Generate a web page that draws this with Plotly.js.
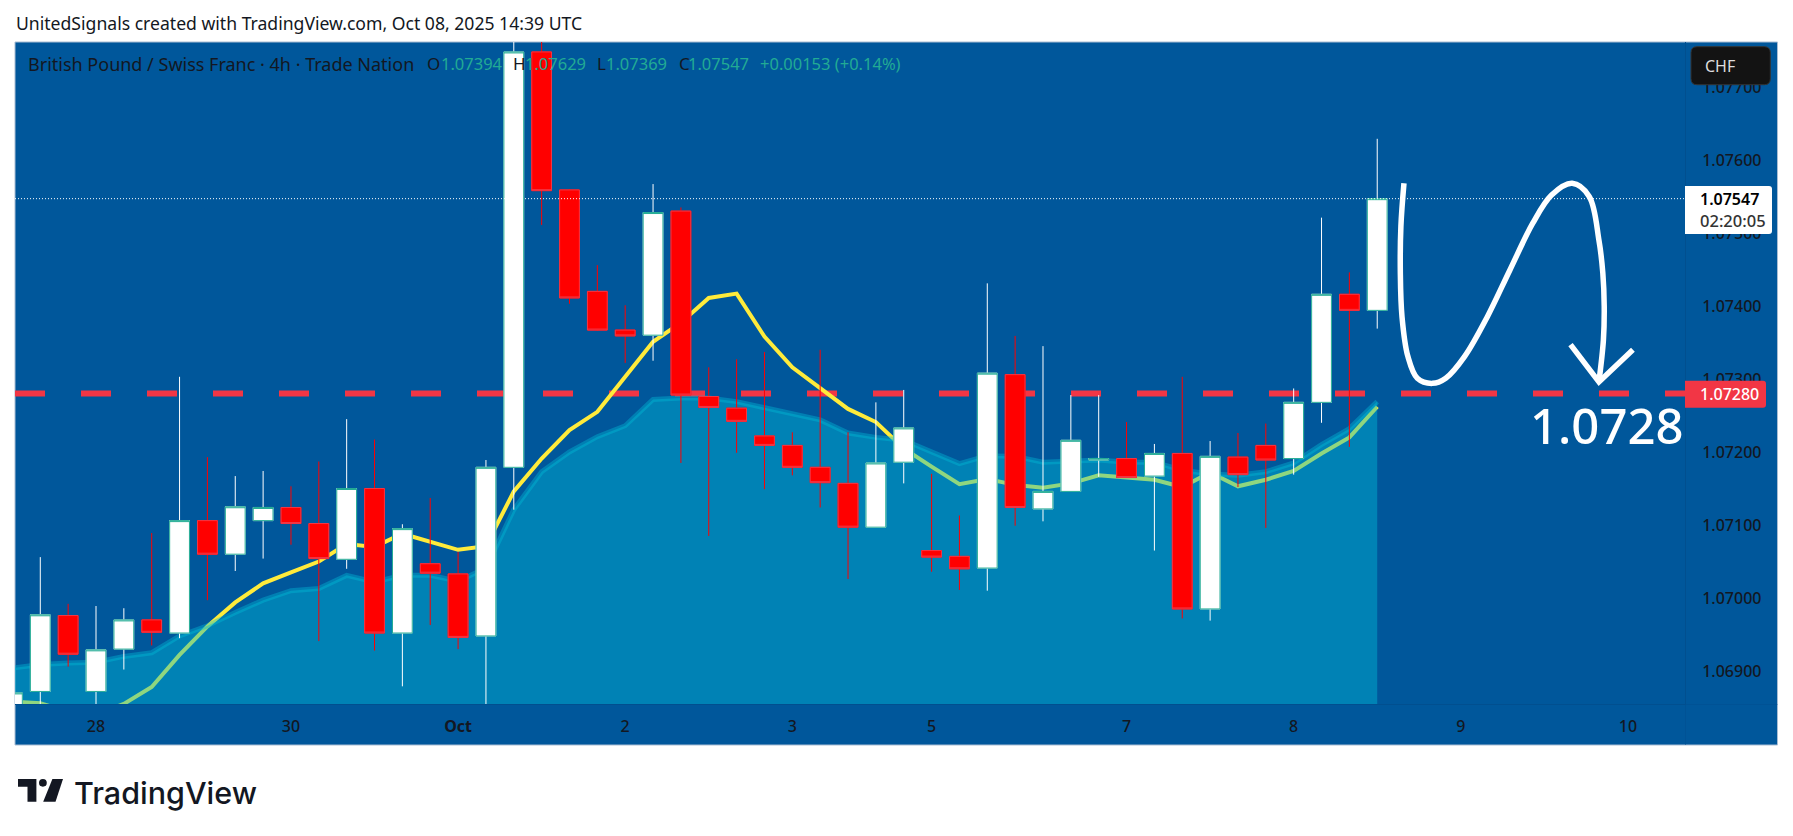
<!DOCTYPE html>
<html>
<head>
<meta charset="utf-8">
<script src="https://cdn.plot.ly/plotly-3.0.1.min.js"></script>
<style>
  html, body { margin: 0; padding: 0; background: #fff; overflow: hidden; }
</style>
</head>
<body>
<div id="chart"></div>
<script>
// bar number of every candle, bar 2 is the 28th
const bars = [-1,0,1,2,3,4,5,6,7,8,9,10,11,12,13,14,15,16,17,18,19,20,21,22,23,24,
  25,26,27,28,29,30,31,32,33,34,35,36,37,38,39,40,41,42,43,44,45,46,47,48];

const opens = [1.06840,1.06872,1.06976,1.06872,1.06930,1.06970,1.06952,1.07106,1.07060,1.07106,
  1.07124,1.07102,1.07053,1.07150,1.06952,1.07047,1.07033,1.06948,1.07179,1.07748,
  1.07559,1.07420,1.07367,1.07360,1.07530,1.07276,1.07260,1.07222,1.07209,1.07179,
  1.07157,1.07097,1.07186,1.07065,1.07057,1.07041,1.07306,1.07122,1.07146,1.07189,
  1.07191,1.07167,1.07198,1.06985,1.07193,1.07209,1.07191,1.07268,1.07416,1.07394];
const highs = [1.06870,1.07056,1.06992,1.06989,1.06986,1.07089,1.07303,1.07193,1.07167,1.07174,
  1.07153,1.07187,1.07245,1.07217,1.07101,1.07137,1.07063,1.07189,1.07790,1.07790,
  1.07560,1.07456,1.07401,1.07567,1.07535,1.07316,1.07327,1.07337,1.07227,1.07340,
  1.07227,1.07268,1.07285,1.07170,1.07113,1.07431,1.07359,1.07345,1.07278,1.07278,
  1.07241,1.07211,1.07303,1.07215,1.07226,1.07239,1.07287,1.07521,1.07446,1.07629];
const lows = [1.06830,1.06847,1.06906,1.06852,1.06902,1.06935,1.06945,1.06997,1.07037,1.07054,
  1.07073,1.06941,1.07040,1.06928,1.06879,1.06963,1.06930,1.06845,1.07121,1.07511,
  1.07403,1.07366,1.07322,1.07325,1.07185,1.07085,1.07199,1.07149,1.07168,1.07124,
  1.07026,1.07097,1.07157,1.07036,1.07011,1.07010,1.07099,1.07105,1.07146,1.07166,
  1.07165,1.07065,1.06972,1.06969,1.07152,1.07096,1.07169,1.07240,1.07207,1.07369];
const closes = [1.06870,1.06977,1.06923,1.06929,1.06970,1.06953,1.07106,1.07060,1.07125,1.07124,
  1.07102,1.07054,1.07150,1.06952,1.07095,1.07034,1.06946,1.07179,1.07748,1.07558,
  1.07411,1.07367,1.07359,1.07528,1.07278,1.07261,1.07242,1.07209,1.07179,1.07158,
  1.07097,1.07185,1.07233,1.07056,1.07040,1.07308,1.07124,1.07146,1.07216,1.07191,
  1.07165,1.07198,1.06985,1.07194,1.07169,1.07189,1.07268,1.07416,1.07394,1.07547];

// the yellow moving average
const fastAverage = [1.06858,1.06856,1.06844,1.06840,1.06855,1.06878,1.06922,1.06961,1.06994,1.07020,
  1.07035,1.07050,1.07074,1.07070,1.07088,1.07077,1.07066,1.07071,1.07146,1.07191,
  1.07230,1.07255,1.07303,1.07351,1.07377,1.07411,1.07417,1.07358,1.07316,1.07287,
  1.07259,1.07241,1.07205,1.07180,1.07156,1.07163,1.07155,1.07151,1.07157,1.07168,
  1.07165,1.07162,1.07152,1.07172,1.07153,1.07162,1.07174,1.07198,1.07220,1.07262];
// the cyan area
const slowAverage = [1.06904,1.06909,1.06911,1.06912,1.06920,1.06925,1.06948,1.06962,1.06980,1.06997,
  1.07010,1.07013,1.07031,1.07022,1.07031,1.07031,1.07023,1.07041,1.07121,1.07173,
  1.07200,1.07221,1.07236,1.07272,1.07274,1.07274,1.07269,1.07261,1.07253,1.07244,
  1.07226,1.07220,1.07216,1.07200,1.07184,1.07195,1.07194,1.07186,1.07188,1.07189,
  1.07186,1.07186,1.07175,1.07170,1.07168,1.07173,1.07185,1.07210,1.07232,1.07269];

const targetPrice = 1.0728;
const lastPrice = 1.07547;

// hand drawn path and arrow head on the right
const sketchBars = [48.96,48.85,48.83,48.89,49.10,49.44,49.98,50.46,51.14,51.95,52.76,53.58,54.26,
  55.00,55.61,55.96,56.10,56.15,56.12,55.96];
const sketchPrices = [1.07568,1.07509,1.07445,1.07385,1.07331,1.07301,1.07294,1.07301,1.07331,1.07385,
  1.07449,1.07513,1.07552,1.07568,1.07550,1.07490,1.07445,1.07399,1.07353,1.07296];
const arrowBars = [54.94,55.96,57.18];
const arrowPrices = [1.07347,1.07296,1.07340];

const dayBars = [2,9,15,21,27,32,39,45,51,57];
const dayLabels = ['28','30','<b>Oct</b>','2','3','5','7','8','9','10'];

const barRange = [-0.908, 59.05];
const priceRange = [1.068548, 1.077616];

// pane edges in page pixels
const W = 1793, H = 836;
const paneLeft = 15, paneRight = 1685, paneTop = 42, paneBottom = 704;
const frameRight = 1777.5, frameBottom = 745;
const px = (x) => (x - paneLeft) / (paneRight - paneLeft);
const py = (y) => (paneBottom - y) / (paneBottom - paneTop);

const FONT = '"Noto Sans", sans-serif';
const INK = '#131722';
const GREEN = '#22ab94';

function pageRect(x0, y0, x1, y1, fill, line, layer) {
  return {
    type: 'rect', xref: 'paper', yref: 'paper', layer: layer || 'above',
    x0: px(x0), x1: px(x1), y0: py(y1), y1: py(y0),
    fillcolor: fill, line: line || { width: 0 },
  };
}

// rectangle with round corners, square on the left when squareLeft is set
function roundRect(x0, y0, x1, y1, r, fill, line, squareLeft) {
  const a = (x, y) => `${px(x)} ${py(y)}`;
  const rl = squareLeft ? 0 : r;
  const path = `M${a(x0 + rl, y0)} L${a(x1 - r, y0)} Q${a(x1, y0)} ${a(x1, y0 + r)} `
    + `L${a(x1, y1 - r)} Q${a(x1, y1)} ${a(x1 - r, y1)} L${a(x0 + rl, y1)} `
    + `Q${a(x0, y1)} ${a(x0, y1 - rl)} L${a(x0, y0 + rl)} Q${a(x0, y0)} ${a(x0 + rl, y0)} Z`;
  return {
    type: 'path', xref: 'paper', yref: 'paper', layer: 'above', path,
    fillcolor: fill, line: line || { width: 0 },
  };
}

function label(text, x, y, size, color, weight) {
  return {
    text, xref: 'paper', yref: 'paper', x: px(x), y: py(y),
    xanchor: 'left', yanchor: 'middle', showarrow: false, borderpad: 0,
    font: { family: FONT, size, color, weight: weight || 400 },
  };
}

const traces = [
  {
    // under the area so that it turns green where they overlap
    type: 'scatter', mode: 'lines', x: bars, y: fastAverage,
    line: { color: '#ffeb3b', width: 4 }, hoverinfo: 'skip',
  },
  {
    type: 'scatter', mode: 'lines', x: bars, y: slowAverage,
    fill: 'tozeroy', fillcolor: 'rgba(0,187,214,0.44)',
    line: { color: 'rgba(0,187,214,0.4)', width: 5 }, hoverinfo: 'skip',
  },
  // candles sit on the overlaid axes, otherwise the scatter layer covers them
  {
    // wicks only, the bodies come from the next trace
    type: 'candlestick', xaxis: 'x2', yaxis: 'y2',
    x: bars, open: opens, high: highs, low: lows, close: closes,
    increasing: { line: { color: '#ffffff', width: 1 }, fillcolor: '#ffffff' },
    decreasing: { line: { color: '#ff0000', width: 1 }, fillcolor: '#ff0000' },
    hoverinfo: 'skip',
  },
  {
    type: 'candlestick', xaxis: 'x2', yaxis: 'y2',
    x: bars, open: opens, close: closes,
    high: opens.map((o, i) => Math.max(o, closes[i])),
    low: opens.map((o, i) => Math.min(o, closes[i])),
    increasing: { line: { color: '#22ab94', width: 1 }, fillcolor: '#ffffff' },
    decreasing: { line: { color: '#f23645', width: 1 }, fillcolor: '#ff0000' },
    hoverinfo: 'skip',
  },
  {
    type: 'scatter', mode: 'lines', xaxis: 'x2', yaxis: 'y2', x: barRange, y: [lastPrice, lastPrice],
    line: { color: '#ffffff', width: 1, dash: '1px,2px' }, hoverinfo: 'skip',
  },
  {
    type: 'scatter', mode: 'lines', xaxis: 'x2', yaxis: 'y2', x: sketchBars, y: sketchPrices,
    line: { color: '#ffffff', width: 5.5, shape: 'spline', smoothing: 1 }, hoverinfo: 'skip',
  },
  {
    type: 'scatter', mode: 'lines', xaxis: 'x2', yaxis: 'y2', x: arrowBars, y: arrowPrices,
    line: { color: '#ffffff', width: 5.5 }, hoverinfo: 'skip',
  },
];

const layout = {
  width: W,
  height: H,
  autosize: false,
  showlegend: false,
  margin: { l: paneLeft, r: W - paneRight, t: paneTop, b: H - paneBottom, pad: 0 },
  paper_bgcolor: '#ffffff',
  plot_bgcolor: '#00579b',
  boxgap: 0.29,
  boxgroupgap: 0,
  font: { family: FONT, color: INK },
  xaxis: {
    type: 'linear',
    range: barRange,
    rangeslider: { visible: false },
    tickmode: 'array',
    tickvals: dayBars,
    ticktext: dayLabels,
    tickfont: { family: FONT, size: 16, color: INK, weight: 500 },
    ticks: '',
    ticklabelstandoff: 8,
    showgrid: false,
    zeroline: false,
    showline: true,
    linecolor: '#014f8f',
    linewidth: 1,
  },
  yaxis: {
    side: 'right',
    range: priceRange,
    tick0: 1.069,
    dtick: 0.001,
    tickformat: '.5f',
    tickfont: { family: FONT, size: 16, color: INK, weight: 500 },
    ticks: '',
    ticklabelstandoff: 13,
    showgrid: false,
    zeroline: false,
    showline: true,
    linecolor: '#014f8f',
    linewidth: 1,
  },
  xaxis2: {
    overlaying: 'x', anchor: 'y2', type: 'linear', range: barRange, visible: false,
    rangeslider: { visible: false },
  },
  yaxis2: {
    overlaying: 'y', anchor: 'x2', range: priceRange, visible: false,
  },
  shapes: [
    pageRect(15, 42, frameRight, frameBottom, '#00579b', { color: '#a9bdd3', width: 1 }, 'below'),
    pageRect(paneRight, paneBottom, frameRight, paneBottom + 0.5, '#014f8f', null, 'below'),
    pageRect(paneRight, paneBottom, paneRight + 0.5, frameBottom, '#014f8f', null, 'below'),
    {
      type: 'line', layer: 'below', xref: 'x', yref: 'y',
      x0: barRange[0], x1: barRange[1], y0: targetPrice, y1: targetPrice,
      line: { color: '#f23645', width: 6, dash: '30px,36px' },
    },
    roundRect(1691, 46.7, 1770.3, 84.7, 6, '#131313', { color: '#333333', width: 1 }),
    roundRect(paneRight, 186, 1772, 234, 3, '#ffffff', null, true),
    roundRect(paneRight, 380.7, 1766, 407.7, 3, '#f23645', null, true),
    // logo
    {
      type: 'path', xref: 'paper', yref: 'paper', layer: 'above', fillcolor: '#131722', line: { width: 0 },
      path: `M${px(18)} ${py(779)} L${px(36.4)} ${py(779)} L${px(36.4)} ${py(801.7)} L${px(27.5)} ${py(801.7)} `
        + `L${px(27.5)} ${py(786.7)} L${px(18)} ${py(786.7)} Z`,
    },
    {
      type: 'circle', xref: 'paper', yref: 'paper', layer: 'above', fillcolor: '#131722', line: { width: 0 },
      x0: px(39), x1: px(46.8), y0: py(786.7), y1: py(779),
    },
    {
      type: 'path', xref: 'paper', yref: 'paper', layer: 'above', fillcolor: '#131722', line: { width: 0 },
      path: `M${px(52.4)} ${py(779)} L${px(63)} ${py(779)} L${px(55.5)} ${py(801.7)} L${px(43.2)} ${py(801.7)} Z`,
    },
  ],
  annotations: [
    label('UnitedSignals created with TradingView.com, Oct 08, 2025 14:39 UTC', 15, 22.7, 17.6, '#131722'),
    label('British Pound / Swiss Franc · 4h · Trade Nation', 27, 63.5, 18, INK),
    label('O', 425.5, 63.5, 17, INK),
    label('1.07394', 440, 63.5, 16.5, GREEN),
    label('H', 512, 63.5, 17, INK),
    label('1.07629', 524, 63.5, 16.5, GREEN),
    label('L', 596.2, 63.5, 17, INK),
    label('1.07369', 604.6, 63.5, 16.5, GREEN),
    label('C', 677.7, 63.5, 17, INK),
    label('1.07547', 687, 63.5, 16.5, GREEN),
    label('+0.00153 (+0.14%)', 759.2, 63.5, 16.5, GREEN),
    label('CHF', 1703.7, 65.7, 16, '#dddddd'),
    label('1.07547', 1699, 199.3, 16, '#000000', 600),
    label('02:20:05', 1699, 220.7, 16.5, '#333333', 500),
    label('1.07280', 1699, 394, 16, '#ffffff', 500),
    label('1.0728', 1529, 425, 49, '#ffffff', 500),
    {
      text: 'TradingView', xref: 'paper', yref: 'paper', x: px(73), y: py(792),
      xanchor: 'left', yanchor: 'middle', showarrow: false, borderpad: 0,
      font: { family: 'Inter, sans-serif', size: 30.5, color: '#131722', weight: 500 },
    },
  ],
};

Plotly.newPlot('chart', traces, layout, { displayModeBar: false, staticPlot: true });
</script>
</body>
</html>
